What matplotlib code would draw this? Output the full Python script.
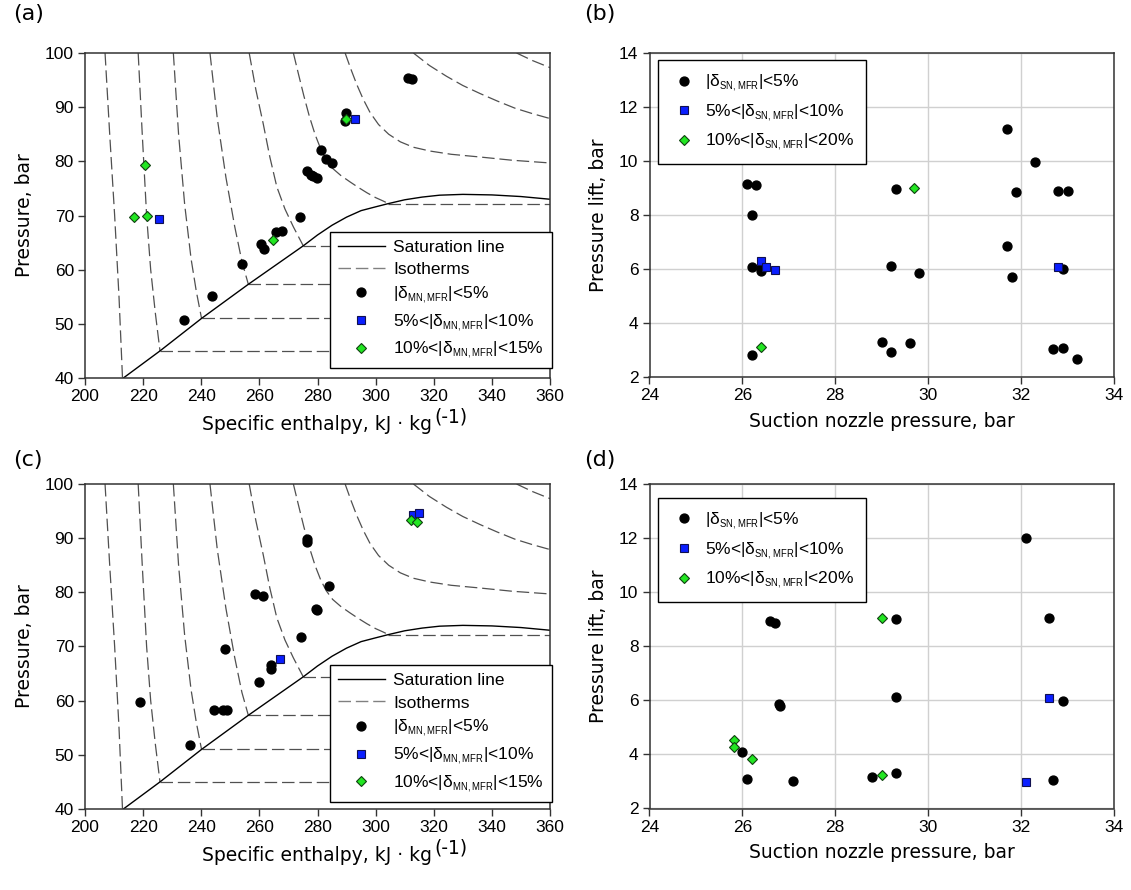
import numpy as np
import matplotlib.pyplot as plt
import matplotlib._mathtext as mathtext_internals
from matplotlib.lines import Line2D

plt.rcParams['font.family'] = ['Liberation Sans', 'DejaVu Sans']
plt.rcParams['mathtext.fontset'] = 'custom'
plt.rcParams['mathtext.rm'] = 'Liberation Sans'
plt.rcParams['lines.scale_dashes'] = False
# subscripts in the original are smaller than mathtext's default 70 %
mathtext_internals.SHRINK_FACTOR = 0.55

# ---- background of the p-h diagram ----
sat_h = [213.2, 225.8, 240.1, 256.2, 275.1, 280.0, 285.0, 290.0, 295.0, 300.0, 304.4,
         310.0, 316.0, 322.0, 330.0, 340.0, 350.0, 360.0]
sat_p = [40.0, 45.0, 51.0, 57.3, 64.4, 66.4, 68.2, 69.7, 70.9, 71.6, 72.2,
         72.9, 73.4, 73.75, 73.9, 73.8, 73.5, 73.0]

iso_h = [
    [206.9, 208.5, 210.2, 211.7, 212.9],
    [218.3, 219.7, 221.2, 222.6, 224.2, 225.8],
    [230.4, 232.2, 234.3, 236.5, 238.3, 240.1],
    [243.0, 245.5, 248.5, 251.5, 254.0, 256.2],
    [256.5, 258.8, 261.3, 263.6, 266.0, 268.8, 271.7, 275.1],
    [271.7, 273.5, 275.3, 277.2, 279.2, 281.1, 283.0, 285.2, 288.0, 291.2, 294.0, 297.0,
     300.0, 302.5, 304.4],
    [289.5, 291.5, 293.5, 295.7, 298.1, 301.0, 304.5, 308.5, 313.0, 318.7, 326.0, 335.9,
     347.0, 360.0],
    [313.0, 318.5, 324.4, 330.0, 336.0, 342.0, 348.0, 354.0, 360.0],
    [348.5, 354.0, 360.0],
]
iso_p = [
    [100, 85, 70, 55, 40],
    [100, 85, 70, 60, 52, 45.0],
    [100, 85, 72, 62, 56, 51.0],
    [100, 88, 77, 68, 61.5, 57.3],
    [100, 93.2, 87.0, 80.8, 75.3, 71.2, 67.9, 64.4],
    [100, 96.0, 92.1, 88.3, 84.9, 82.3, 80.3, 78.7, 77.4, 76.2, 75.2, 74.2,
     73.3, 72.7, 72.2],
    [100, 97.0, 94.2, 91.5, 89.0, 86.8, 85.0, 83.6, 82.6, 81.9, 81.3, 80.8,
     80.2, 79.7],
    [100, 97.7, 95.7, 94.0, 92.5, 91.1, 89.8, 88.8, 87.9],
    [100, 98.6, 97.3],
]
# two-phase parts of the isotherms
dome_h0 = [225.8, 240.1, 256.2, 275.1, 304.4]
dome_p = [45.0, 51.0, 57.3, 64.4, 72.2]

# ---- panel (a) ----
a_c_h = [289.8, 289.6, 281.1, 282.8, 285.0, 276.3, 277.7, 278.6, 279.7, 273.9,
         265.6, 267.8, 260.7, 261.7, 254.0, 243.7, 234.1, 311.0, 312.6]
a_c_p = [89.0, 87.5, 82.1, 80.4, 79.7, 78.3, 77.5, 77.2, 77.0, 69.8,
         66.9, 67.1, 64.7, 63.9, 61.0, 55.2, 50.8, 95.3, 95.2]
a_s_h = [225.5, 292.8]
a_s_p = [69.4, 87.9]
a_d_h = [220.6, 216.7, 221.2, 264.7, 289.9]
a_d_p = [79.4, 69.8, 70.0, 65.5, 87.9]

# ---- panel (c) ----
c_c_h = [276.3, 276.5, 283.8, 279.5, 279.9, 258.5, 261.3, 274.2, 263.9, 264.1,
         259.8, 248.3, 218.9, 244.5, 247.6, 249.0, 236.2]
c_c_p = [89.8, 89.2, 81.1, 76.9, 76.7, 79.6, 79.3, 71.7, 66.5, 65.9,
         63.4, 69.5, 59.8, 58.2, 58.2, 58.3, 51.9]
c_s_h = [267.1, 312.9, 315.0]
c_s_p = [67.6, 94.2, 94.6]
c_d_h = [312.3, 314.3]
c_d_p = [93.4, 92.9]

# ---- panel (b) ----
b_c_x = [26.11, 26.30, 26.20, 26.20, 26.40, 26.40, 26.20, 29.31, 29.20, 29.81, 29.00, 29.20,
         29.61, 31.70, 32.30, 31.90, 32.80, 33.01, 31.70, 31.81, 32.91, 32.70, 32.91, 33.21]
b_c_y = [9.16, 9.12, 8.01, 6.08, 6.04, 5.92, 2.83, 8.96, 6.14, 5.86, 3.32, 2.95,
         3.26, 11.2, 9.96, 8.86, 8.91, 8.91, 6.85, 5.72, 6.02, 3.06, 3.10, 2.68]
b_s_x = [26.40, 26.50, 26.70, 32.80]
b_s_y = [6.29, 6.10, 5.98, 6.07]
b_d_x = [26.40, 29.70]
b_d_y = [3.14, 9.00]

# ---- panel (d) ----
d_c_x = [26.60, 26.70, 29.31, 32.61, 26.80, 26.81, 29.31, 32.91, 26.00, 26.10, 27.10, 28.80,
         29.31, 32.70, 32.10]
d_c_y = [8.92, 8.87, 9.02, 9.06, 5.85, 5.80, 6.11, 5.97, 4.08, 3.09, 3.00, 3.18,
         3.31, 3.04, 12.0]
d_s_x = [32.61, 32.11]
d_s_y = [6.08, 2.98]
d_d_x = [29.00, 25.81, 25.81, 26.20, 29.00]
d_d_y = [9.05, 4.55, 4.26, 3.83, 3.24]

W, H = 1131, 890
fig = plt.figure(figsize=(W / 100, H / 100), dpi=100)


def px_axes(left, top, right, bottom):
    return fig.add_axes([left / W, 1 - bottom / H, (right - left) / W, (bottom - top) / H])


ax_a = px_axes(85, 53, 550, 378)
ax_b = px_axes(649.5, 53.3, 1113.7, 377.3)
ax_c = px_axes(85, 484, 550, 809)
ax_d = px_axes(649.5, 484, 1113.7, 808.5)

circ = dict(ls='none', marker='o', ms=6.4, mfc='black', mec='black', zorder=5)
sq = dict(ls='none', marker='s', ms=5.6, mfc='#0a1eff', mec='#101050', mew=0.8, zorder=6)
dia = dict(ls='none', marker='D', ms=5.4, mfc='#22e622', mec='#104010', mew=0.8, zorder=7)
iso_style = dict(color='#505050', lw=0.9, dashes=(9, 3.5))
label_font = dict(family='DejaVu Sans', fontsize=13.5)


def no_z(style):
    return {k: v for k, v in style.items() if k != 'zorder'}


def style_axes(ax):
    for s in ax.spines.values():
        s.set_color('#333333')
        s.set_linewidth(1.1)
    ax.tick_params(direction='out', length=5, width=1, color='#333333', labelsize=12.5, pad=3)


def ph_panel(ax, ch, cp, sh, sp, dh, dp, anchor_y):
    for h, p in zip(iso_h, iso_p):
        ax.plot(h, p, **iso_style)
    for h0, p in zip(dome_h0, dome_p):
        ax.plot([h0, 360], [p, p], **iso_style)
    ax.plot(sat_h, sat_p, color='black', lw=1.0)
    ax.plot(ch, cp, **circ)
    ax.plot(sh, sp, **sq)
    ax.plot(dh, dp, **dia)
    ax.set_xlim(200, 360)
    ax.set_ylim(40, 100)
    ax.set_xticks(np.arange(200, 361, 20))
    ax.set_yticks(np.arange(40, 101, 10))
    style_axes(ax)
    ax.set_ylabel('Pressure, bar', labelpad=8, **label_font)
    ax.set_xlabel('Specific enthalpy, kJ · kg', labelpad=8, **label_font)
    ax.annotate('(-1)', xy=(1, 1), xycoords=ax.xaxis.label, xytext=(1, -1),
                textcoords='offset points', ha='left', va='center', **label_font)
    handles = [
        Line2D([], [], color='black', lw=1.0),
        Line2D([], [], color='#808080', lw=1.0, dashes=(9, 3.5)),
        Line2D([], [], **no_z(circ)),
        Line2D([], [], **no_z(sq)),
        Line2D([], [], **no_z(dia)),
    ]
    labels = ['Saturation line', 'Isotherms',
              r'|δ$_{\mathregular{MN,MFR}}$|<5%',
              r'5%<|δ$_{\mathregular{MN,MFR}}$|<10%',
              r'10%<|δ$_{\mathregular{MN,MFR}}$|<15%']
    leg = ax.legend(handles, labels, loc='lower right', bbox_to_anchor=(1.004, anchor_y),
                    borderaxespad=0, fontsize=12.5, handlelength=2.7, handletextpad=0.5,
                    borderpad=0.45, labelspacing=0.4, fancybox=False, framealpha=1,
                    edgecolor='black')
    leg.get_frame().set_linewidth(1.0)
    leg.set_zorder(10)


def lift_panel(ax, cx, cy, sx, sy, dx, dy, anchor_y):
    ax.plot(cx, cy, **circ)
    ax.plot(sx, sy, **sq)
    ax.plot(dx, dy, **dia)
    ax.set_xlim(24, 34)
    ax.set_ylim(2, 14)
    ax.set_xticks(np.arange(24, 35, 2))
    ax.set_yticks(np.arange(2, 15, 2))
    ax.grid(True, color='#d0d0d0', lw=1.0)
    ax.set_axisbelow(True)
    style_axes(ax)
    ax.set_ylabel('Pressure lift, bar', labelpad=8, **label_font)
    ax.set_xlabel('Suction nozzle pressure, bar', labelpad=6, **label_font)
    handles = [Line2D([], [], **no_z(circ)), Line2D([], [], **no_z(sq)), Line2D([], [], **no_z(dia))]
    labels = [r'|δ$_{\mathregular{SN,MFR}}$|<5%',
              r'5%<|δ$_{\mathregular{SN,MFR}}$|<10%',
              r'10%<|δ$_{\mathregular{SN,MFR}}$|<20%']
    leg = ax.legend(handles, labels, loc='upper left', bbox_to_anchor=(0.018, anchor_y),
                    borderaxespad=0, fontsize=12.5, handlelength=1.6, handletextpad=0.4,
                    borderpad=0.7, labelspacing=0.5, fancybox=False, framealpha=1,
                    edgecolor='black')
    leg.get_frame().set_linewidth(1.0)


ph_panel(ax_a, a_c_h, a_c_p, a_s_h, a_s_p, a_d_h, a_d_p, 0.03)
ph_panel(ax_c, c_c_h, c_c_p, c_s_h, c_s_p, c_d_h, c_d_p, 0.022)
lift_panel(ax_b, b_c_x, b_c_y, b_s_x, b_s_y, b_d_x, b_d_y, 0.979)
lift_panel(ax_d, d_c_x, d_c_y, d_s_x, d_s_y, d_d_x, d_d_y, 0.957)

for lab, x, y in [('(a)', 13, 4), ('(b)', 584, 4), ('(c)', 13, 450), ('(d)', 584, 450)]:
    fig.text(x / W, 1 - y / H, lab, ha='left', va='top', family='DejaVu Sans', fontsize=16)

fig.savefig('out.png', dpi=100)
